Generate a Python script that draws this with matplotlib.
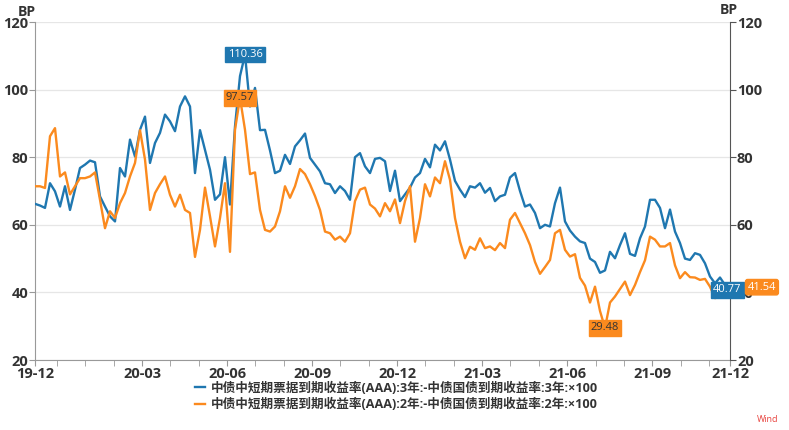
import numpy as np
import pandas as pd
import matplotlib
matplotlib.use('Agg')
import matplotlib.pyplot as plt

plt.rcParams['font.family'] = ['Open Sans', 'Noto Sans CJK SC', 'DejaVu Sans']

# spread series (BP), start 19-12 -> end 21-12
spread_3y = [66.2, 65.7, 65.0, 72.3, 69.9, 65.4, 71.4, 64.4, 70.4, 76.8, 77.8, 79.0, 78.5, 68.4, 65.4, 62.5,
             61.0, 76.8, 74.3, 85.2, 80.2, 88.1, 92.0, 78.3, 84.2, 87.2, 92.6, 90.6, 87.7, 95.0, 98.0, 95.0,
             75.3, 88.0, 82.2, 76.3,
             67.4, 69.0, 80.0, 66.0, 89.1, 104.0, 110.36, 95.0, 100.5, 88.0, 88.1, 82.0, 75.3, 76.0, 80.7, 78.0,
             83.2, 85.0, 87.0, 79.8, 77.8, 75.8, 72.3, 72.0, 69.4, 71.4, 70.0, 67.4, 80.0, 81.2, 77.3, 75.3,
             79.5, 79.8,
             78.8, 70.0, 76.0, 67.0, 69.0, 71.0, 74.0, 75.3, 79.5, 77.0, 83.7, 82.0, 84.7, 79.3, 73.0, 70.4,
             68.2, 71.4, 71.0, 72.3, 69.5, 70.9, 67.0, 68.4, 68.9, 74.0, 75.3, 70.0, 65.4, 66.0, 63.5, 59.0,
             60.0, 59.5,
             66.4, 71.0, 61.0, 58.3, 56.5, 55.1, 54.6, 50.0, 49.0, 45.8, 46.5, 52.0, 50.1, 54.0, 57.5, 51.4,
             50.8, 56.0, 59.5, 67.4, 67.4, 65.0, 59.0, 64.5, 58.0, 54.6, 50.0, 49.6, 51.6, 51.1, 48.6, 44.7,
             42.7, 44.4, 42.2, 40.77]
spread_2y = [71.4, 71.4, 70.9, 86.2, 88.6, 74.3, 75.5, 69.0, 71.4, 73.8, 73.8, 74.3, 75.5, 67.4, 59.0, 64.0,
             62.0, 66.4, 69.4, 74.3, 78.3, 88.0, 79.3, 64.4, 69.4, 72.0, 74.3, 68.9, 65.4, 68.9, 64.4, 63.5,
             50.5, 58.5, 71.0, 62.5,
             53.6, 62.0, 72.3, 52.0, 88.1, 97.57, 88.1, 75.0, 75.5, 64.4, 58.5, 58.0, 59.5, 64.0, 71.4, 68.0,
             71.4, 76.5, 75.0, 72.0, 68.5, 64.4, 58.0, 57.5, 55.6, 56.5, 55.0, 57.5, 67.0, 70.4, 71.0, 66.0,
             64.8, 62.5,
             66.4, 64.0, 67.5, 60.5, 67.0, 71.4, 55.0, 62.0, 72.0, 68.4, 74.0, 72.3, 78.8, 73.3, 62.0, 55.0,
             50.1, 53.5, 52.6, 56.0, 53.1, 53.6, 52.5, 54.6, 53.1, 61.5, 63.5, 60.5, 57.5, 54.0, 49.0, 45.5,
             47.5, 49.6,
             57.5, 58.5, 52.6, 50.6, 51.3, 44.3, 42.0, 37.0, 41.7, 34.5, 29.48, 37.0, 38.8, 41.0, 43.2, 39.2,
             42.2, 46.0, 49.5, 56.5, 55.6, 53.6, 53.6, 54.6, 48.0, 44.2, 46.0, 44.5, 44.4, 43.7, 44.0, 41.7,
             38.3, 38.8, 41.5, 41.54]

label_3y = '中债中短期票据到期收益率(AAA):3年:-中债国债到期收益率:3年:×100'
label_2y = '中债中短期票据到期收益率(AAA):2年:-中债国债到期收益率:2年:×100'
y_ticks = [20, 40, 60, 80, 100, 120]

start = pd.Timestamp('2019-12-02')
end = pd.Timestamp('2021-12-03')
dates = pd.date_range(start, end, periods=len(spread_3y))

blue = '#1f77b0'
orange = '#fb8a1e'
txt = '#333333'

fig = plt.figure(figsize=(7.89, 4.30), dpi=100)
ax = fig.add_axes([35 / 789, 1 - 360 / 430, 695 / 789, 338 / 430])
ax.plot(dates, spread_3y, color=blue, lw=1.7, label=label_3y, zorder=3)
ax.plot(dates, spread_2y, color=orange, lw=1.7, label=label_2y, zorder=4)

ax.set_xlim(start, end)
ax.set_ylim(20, 120)
ax.set_yticks(y_ticks)
ax.grid(axis='y', color='#e6e6e6', lw=0.9)
ax.set_axisbelow(True)

# month ticks, labelled every quarter
step = pd.Timedelta(days=29.85)
month_ticks = [start + pd.Timedelta(days=23.2) + k * step for k in range(25)]
month_ticks = [t for t in month_ticks if t < end]
label_ticks = [start] + month_ticks[3::3] + [end]
ax.set_xticks(label_ticks)
ax.set_xticklabels([t.strftime('%y-%m') for t in label_ticks])
ax.set_xticks(month_ticks, minor=True)

for s in ['top', 'right']:
    ax.spines[s].set_visible(False)
ax.spines['left'].set_color('#999999')
ax.spines['bottom'].set_color('#999999')
ax.tick_params(axis='both', which='both', length=4, color='#999999',
               labelsize=10.5, labelcolor=txt, pad=1)

ax2 = ax.twinx()
ax2.set_ylim(20, 120)
ax2.set_yticks(y_ticks)
for s in ['top', 'left', 'bottom']:
    ax2.spines[s].set_visible(False)
ax2.spines['right'].set_color('#555555')
ax2.tick_params(axis='y', length=4, color='#555555', labelsize=10.5, labelcolor=txt, pad=1)

for lab in ax.get_xticklabels() + ax.get_yticklabels() + ax2.get_yticklabels():
    lab.set_fontweight('bold')

fig.text(18 / 789, 1 - 12 / 430, 'BP', fontsize=10, fontweight='bold', color=txt, va='center')
fig.text(720 / 789, 1 - 10 / 430, 'BP', fontsize=10, fontweight='bold', color=txt, va='center')


def tag(x, y, text, fc, tc, dx=0, style='square'):
    ax2.annotate(text, (x, y), xytext=(dx, 0), textcoords='offset points',
                 ha='center', va='center', fontsize=8, color=tc, zorder=8,
                 annotation_clip=False,
                 bbox=dict(boxstyle=style + ',pad=0.2', fc=fc, ec=fc))


i_max3 = int(np.argmax(spread_3y))
i_max2 = int(np.argmax(spread_2y))
i_min2 = int(np.argmin(spread_2y))
tag(dates[i_max3], spread_3y[i_max3], f'{spread_3y[i_max3]:.2f}', blue, 'white')
tag(dates[i_max2], spread_2y[i_max2], f'{spread_2y[i_max2]:.2f}', orange, txt)
tag(dates[i_min2], spread_2y[i_min2], f'{spread_2y[i_min2]:.2f}', orange, txt)
tag(dates[-1], spread_3y[-1], f'{spread_3y[-1]:.2f}', blue, 'white', dx=-2)
tag(dates[-1], spread_2y[-1], f'{spread_2y[-1]:.2f}', orange, 'white', dx=23, style='round')

leg = ax.legend(loc='upper left', bbox_to_anchor=(189 / 789, 1 - 375 / 430),
                bbox_transform=fig.transFigure, frameon=False, ncol=1,
                handlelength=0.8, handletextpad=0.4, borderpad=0, labelspacing=0.3,
                prop={'weight': 'bold', 'size': 9.1})
for t in leg.get_texts():
    t.set_color(txt)

fig.text(757 / 789, 1 - 419 / 430, 'Wind', color='#e8433e', fontsize=6.5, va='center')

fig.savefig('out.png', dpi=100)
